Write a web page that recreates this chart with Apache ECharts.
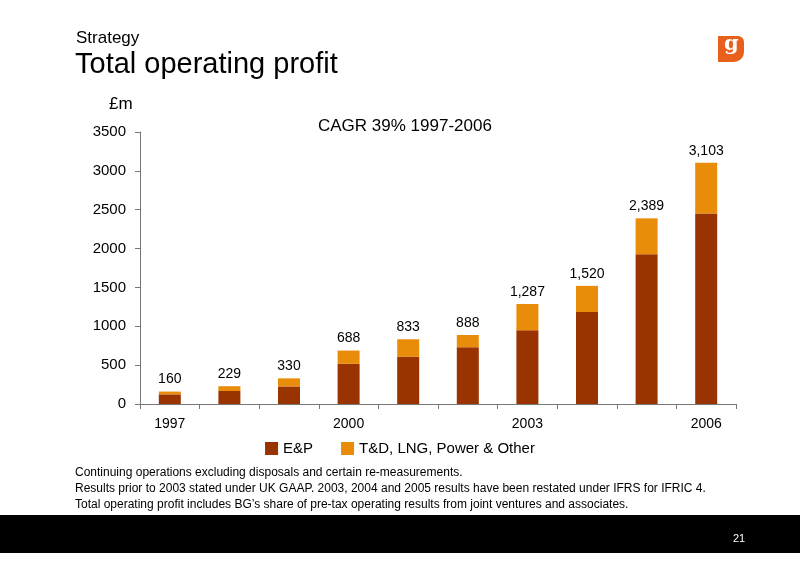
<!DOCTYPE html>
<html><head><meta charset="utf-8">
<script src="https://cdn.jsdelivr.net/npm/echarts@6/dist/echarts.min.js"></script>
<style>html,body{margin:0;padding:0;background:#fff}#c{width:800px;height:565px}</style>
</head><body><div id="c"></div>
<script>
var years = ['1997','1998','1999','2000','2001','2002','2003','2004','2005','2006'];
var totals = [160, 229, 330, 688, 833, 888, 1287, 1520, 2389, 3103];
var ep = [124, 167, 226, 517, 607, 731, 949, 1184, 1927, 2450];
var other = totals.map(function (t, i) { return t - ep[i]; });
var yTicks = [0, 500, 1000, 1500, 2000, 2500, 3000, 3500];

var myChart = echarts.init(document.getElementById('c'));
var font = 'Liberation Sans, Arial, sans-serif';

var option = {
    animation: false,
    textStyle: { fontFamily: font },
    grid: { left: 140, right: 64, top: 132, bottom: 161 },
    legend: {
        data: ['E&P', 'T&D, LNG, Power & Other'],
        bottom: 104, left: 'center',
        itemWidth: 13, itemHeight: 13, itemGap: 28, icon: 'rect',
        textStyle: { fontSize: 15, color: '#000', fontFamily: font }
    },
    xAxis: {
        type: 'category', data: years,
        axisLine: { lineStyle: { color: '#777' } },
        axisTick: { show: true, interval: 0, lineStyle: { color: '#777' } },
        axisLabel: { interval: function (i) { return i % 3 === 0; }, fontSize: 14, color: '#000', margin: 13 }
    },
    yAxis: {
        type: 'value', min: yTicks[0], max: yTicks[yTicks.length - 1], interval: 500,
        splitLine: { show: false },
        axisLine: { show: true, lineStyle: { color: '#777' } },
        axisTick: { show: true, lineStyle: { color: '#777' } },
        axisLabel: { fontSize: 15, color: '#000', margin: 14, formatter: function (v) { return String(v); } }
    },
    series: [
        { name: 'E&P', type: 'bar', stack: 't', data: ep, barWidth: 22, itemStyle: { color: '#993300' } },
        { name: 'T&D, LNG, Power & Other', type: 'bar', stack: 't', data: other, itemStyle: { color: '#E88C0A' },
          label: { show: true, position: 'top', fontSize: 14, color: '#000', distance: 5,
                   formatter: function (p) { return totals[p.dataIndex].toLocaleString('en-US'); } } }
    ],
    graphic: [
        { type: 'text', left: 76, top: 30, style: { text: 'Strategy', fontSize: 17, fill: '#000', fontFamily: font } },
        { type: 'text', left: 75, top: 50, style: { text: 'Total operating profit', fontSize: 29, fill: '#000', fontFamily: font } },
        { type: 'text', left: 109, top: 96, style: { text: '£m', fontSize: 17, fill: '#000', fontFamily: font } },
        { type: 'text', left: 318, top: 118, style: { text: 'CAGR 39% 1997-2006', fontSize: 17, fill: '#000', fontFamily: font } },
        { type: 'rect', shape: { x: 718, y: 36, width: 26, height: 26, r: [0, 6, 10, 0] }, style: { fill: '#E8601C' } },
        { type: 'text', left: 724, top: 34, style: { text: 'g', fontSize: 21, fontWeight: 'bold', fill: '#fff', fontFamily: 'DejaVu Serif' } },
        { type: 'text', left: 75, top: 465, style: { text: 'Continuing operations excluding disposals and certain re-measurements.\nResults prior to 2003 stated under UK GAAP. 2003, 2004 and 2005 results have been restated under IFRS for IFRIC 4.\nTotal operating profit includes BG\u2019s share of pre-tax operating results from joint ventures and associates.', fontSize: 12, lineHeight: 16, fill: '#000', fontFamily: font } },
        { type: 'rect', shape: { x: 0, y: 515, width: 800, height: 38 }, style: { fill: '#000' } },
        { type: 'text', left: 733, top: 533, style: { text: '21', fontSize: 11, fill: '#fff', fontFamily: font } }
    ]
};
myChart.setOption(option);
window.addEventListener('resize', function () { myChart.resize(); });
</script></body></html>
